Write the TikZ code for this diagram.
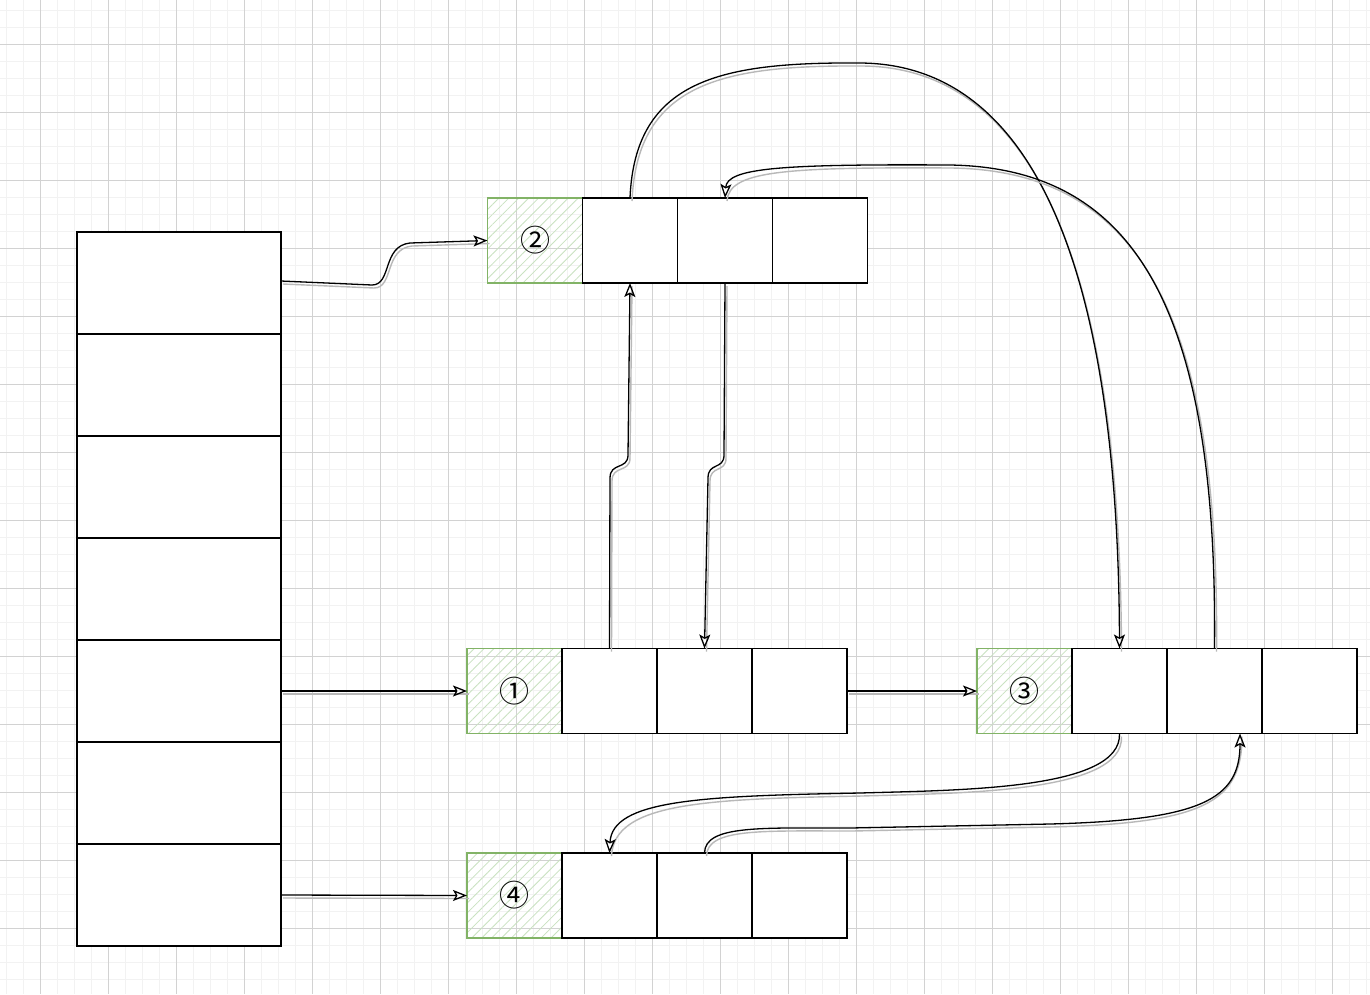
\documentclass[tikz,border=0pt]{standalone}
\usepackage{fontspec}
\newfontfamily\cjk{Noto Sans CJK SC}
\usetikzlibrary{arrows.meta,patterns.meta}
\definecolor{gridmin}{HTML}{F2F2F2}
\definecolor{gridmaj}{HTML}{D2D2D2}
\definecolor{hdrline}{HTML}{82B366}
\definecolor{hdrhatch}{HTML}{C9E2C1}
\begin{document}
\begin{tikzpicture}[x=1pt,y=-1pt,
  cell/.style={draw=black, line width=1.4pt, fill=white, minimum width=95pt, minimum height=85pt, inner sep=0pt, outer sep=0pt},
  hdr/.style={draw=hdrline, line width=1.2pt, pattern={Lines[angle=45,distance=7pt,line width=0.8pt]}, pattern color=hdrhatch, minimum width=95pt, minimum height=85pt, inner sep=0pt, outer sep=0pt, font=\cjk\fontsize{30}{32}\selectfont},
  slot/.style={draw=black, line width=1.4pt, fill=white, minimum width=204pt, minimum height=102pt, inner sep=0pt, outer sep=0pt},
  link/.style={line width=1.3pt, -{Stealth[open,length=14pt,width=11pt,inset=3pt]}, preaction={draw=black!28, line width=1.4pt, -, transform canvas={shift={(2,3)}}}}]
\useasboundingbox (0,0) rectangle (1370,994);
\fill[white] (0,0) rectangle (1370,994);
% grid
\foreach \x in {6,23,...,1370} \draw[gridmin, line width=1pt] (\x,0) -- (\x,994);
\foreach \y in {10,27,...,994} \draw[gridmin, line width=1pt] (0,\y) -- (1370,\y);
\foreach \x in {40,108,...,1370} \draw[gridmaj, line width=1pt] (\x,0) -- (\x,994);
\foreach \y in {44,112,...,994} \draw[gridmaj, line width=1pt] (0,\y) -- (1370,\y);
% column
\foreach \i/\y in {1/283,2/385,3/487,4/589,5/691,6/793,7/895}
  \node[slot] (c\i) at (179,\y) {};
% list 2 (top)
\node[hdr] (h2) at (535,240.5) {②};
\node[cell] (b1) at (630,240.5) {};
\node[cell] (b2) at (725,240.5) {};
\node[cell] (b3) at (820,240.5) {};
% list 1
\node[hdr] (h1) at (514.5,691) {①};
\node[cell] (a1) at (609.5,691) {};
\node[cell] (a2) at (704.5,691) {};
\node[cell] (a3) at (799.5,691) {};
% list 3
\node[hdr] (h3) at (1024.5,691) {③};
\node[cell] (d1) at (1119.5,691) {};
\node[cell] (d2) at (1214.5,691) {};
\node[cell] (d3) at (1309.5,691) {};
% list 4
\node[hdr] (h4) at (514.5,895.5) {④};
\node[cell] (e1) at (609.5,895.5) {};
\node[cell] (e2) at (704.5,895.5) {};
\node[cell] (e3) at (799.5,895.5) {};
% connectors
\draw[link] ([yshift=2pt]c1.east) -- (372,285) .. controls (392,285) and (382,246) .. (410,243) -- (h2.west);
\draw[link] (c5.east) -- (h1.west);
\draw[link] (c7.east) -- (h4.west);
\draw[link] (a3.east) -- (h3.west);
\draw[link] (a1.north) -- (610,478) .. controls (610,462) and (628,470) .. (628,455) -- (b1.south);
\draw[link] (b2.south) -- (724,455) .. controls (724,470) and (708,462) .. (708,478) -- (a2.north);
\draw[link] (b1.north) .. controls (635,80) and (720,62) .. (860,63) .. controls (1030,64) and (1118,260) .. (d1.north);
\draw[link] (d2.north) .. controls (1218,300) and (1130,168) .. (950,165) .. controls (780,164) and (727,168) .. (b2.north);
\draw[link] (d1.south) .. controls (1122,790) and (960,790) .. (860,793) .. controls (700,796) and (612,800) .. (e1.north);
\draw[link] (e2.north) .. controls (705,825) and (760,828) .. (850,828) -- (1050,824) .. controls (1200,820) and (1240,800) .. ([xshift=25.5pt]d2.south);
\end{tikzpicture}
\end{document}
